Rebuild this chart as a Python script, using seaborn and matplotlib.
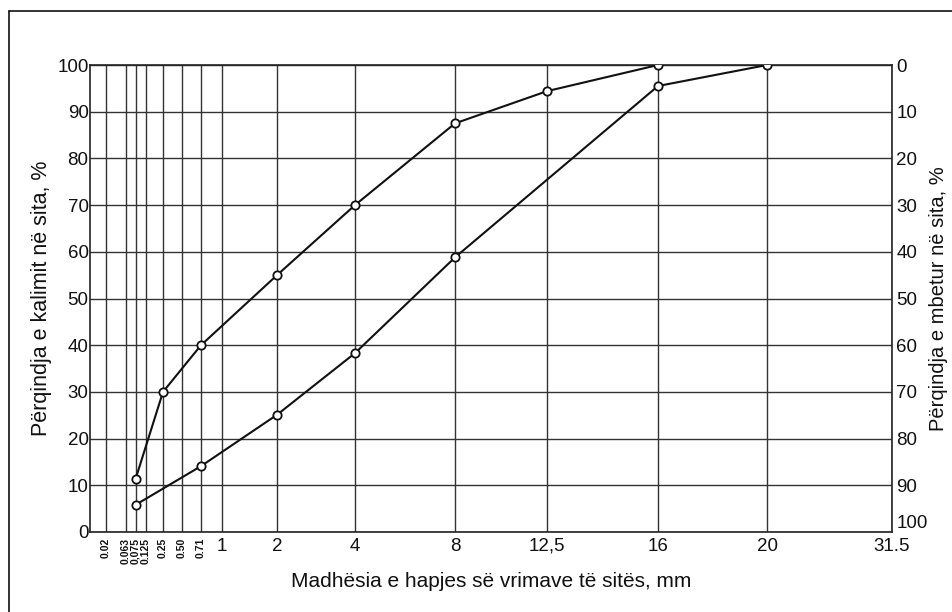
import numpy as np
import pandas as pd
import seaborn as sns
import matplotlib
matplotlib.use("Agg")
import matplotlib.pyplot as plt
from matplotlib.lines import Line2D

# ---- data ----
sieve_sizes = [0.02, 0.063, 0.075, 0.125, 0.25, 0.50, 0.71, 1, 2, 4, 8, 12.5, 16, 20, 31.5]
sieve_labels = ["0.02", "0.063", "0,075", "0.125", "0.25", "0.50", "0.71",
                "1", "2", "4", "8", "12,5", "16", "20", "31.5"]
# position of each sieve along the chart's (non-standard) grading scale
scale_sizes = [0, 0.02, 0.063, 0.075, 0.125, 0.25, 0.50, 0.71, 1, 2, 4, 8, 12.5, 16, 20, 31.5]
scale_pos = [0, 16, 36, 45.5, 56, 73, 92, 111, 132, 187, 265, 365, 457, 568, 677, 802]

upper_size = [0.075, 0.25, 0.71, 2, 4, 8, 12.5, 16]
upper_pass = [11.3, 30, 40, 55, 70, 87.5, 94.4, 100]
lower_size = [0.075, 0.71, 2, 4, 8, 16, 20]
lower_pass = [5.8, 14.1, 25.1, 38.3, 58.8, 95.5, 100]

yticks = list(range(0, 101, 10))
yticks_right_labels = [str(v) for v in yticks]

sns.set_theme(style="white")
plt.rcParams["font.family"] = ["Liberation Sans", "DejaVu Sans"]

fig = plt.figure(figsize=(9.52, 6.12), dpi=100)
fig.patch.set_facecolor("white")
ax = fig.add_axes([90 / 952, 1 - 532 / 612, (892 - 90) / 952, (532 - 65) / 612])

fwd = lambda x: np.interp(x, scale_sizes, scale_pos)
inv = lambda p: np.interp(p, scale_pos, scale_sizes)
ax.set_xscale("function", functions=(fwd, inv))
ax.set_xlim(0, 31.5)
ax.set_ylim(0, 100)

df_u = pd.DataFrame({"size": upper_size, "pass": upper_pass})
df_l = pd.DataFrame({"size": lower_size, "pass": lower_pass})
for d in (df_u, df_l):
    sns.lineplot(data=d, x="size", y="pass", ax=ax, color="#111111", lw=1.5,
                 marker="o", markersize=6, markerfacecolor="white",
                 markeredgecolor="#111111", markeredgewidth=1.3, sort=False, zorder=5)

ax.set_xticks(sieve_sizes)
ax.set_xticklabels(sieve_labels)
ax.set_yticks(yticks)
ax.grid(True, color="#333333", lw=1.0)
ax.tick_params(axis="both", length=0, labelsize=13.5, colors="#111111")
ax.tick_params(axis="y", pad=1)
ax.tick_params(axis="x", pad=4)
for s, lab in zip(sieve_sizes, ax.get_xticklabels()):
    if s < 1:
        lab.set_rotation(90)
        lab.set_fontsize(7.5)
        lab.set_fontweight("bold")
        lab.set_va("top")
for sp in ax.spines.values():
    sp.set_visible(True)
    sp.set_color("#222222")
    sp.set_linewidth(1.2)

ax.set_xlabel("Madhësia e hapjes së vrimave të sitës, mm", fontsize=15, color="#111111", labelpad=6)
ax.set_ylabel("Përqindja e kalimit në sita, %", fontsize=15.5, color="#111111", labelpad=4)

ax2 = ax.twinx()
ax2.set_ylim(100, 0)
ax2.set_yticks(yticks)
ax2.set_yticklabels(yticks_right_labels)
ax2.tick_params(axis="y", length=0, labelsize=13.5, colors="#111111", pad=3)
for v, lab in zip(yticks, ax2.get_yticklabels()):
    if v == 100:
        lab.set_va("bottom")
ax2.set_ylabel("Përqindja e mbetur në sita, %", fontsize=14.5, color="#111111", labelpad=1)
ax2.grid(False)
for sp in ax2.spines.values():
    sp.set_visible(False)

# outer frame (left and top edges visible in the reference)
fig.add_artist(Line2D([9 / 952, 9 / 952], [0, 1 - 11 / 612], transform=fig.transFigure,
                      color="#111111", lw=1.2))
fig.add_artist(Line2D([9 / 952, 1], [1 - 11 / 612, 1 - 11 / 612], transform=fig.transFigure,
                      color="#111111", lw=1.2))

fig.savefig("out.png", dpi=100, facecolor="white")
